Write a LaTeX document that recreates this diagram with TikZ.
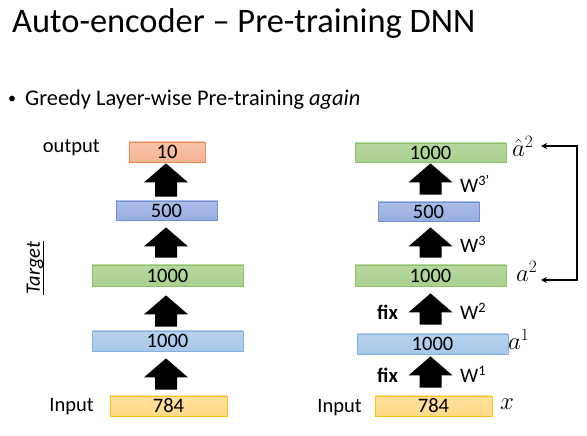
\documentclass[tikz,border=0pt]{standalone}
\usepackage{fontspec}
\setmainfont{Carlito}
\usetikzlibrary{arrows.meta,calc}

\definecolor{orgfill}{HTML}{F6B393}
\definecolor{orgline}{HTML}{EE8A50}
\definecolor{bluefill}{HTML}{97ADE0}
\definecolor{blueline}{HTML}{6E8FD6}
\definecolor{greenfill}{HTML}{A9D18E}
\definecolor{greenline}{HTML}{8CC16C}
\definecolor{ltbluefill}{HTML}{A6C7EA}
\definecolor{ltblueline}{HTML}{80B1E0}
\definecolor{yelfill}{HTML}{FFD985}
\definecolor{yelline}{HTML}{FFC20E}

% solid block arrow pointing up, from the node below (#2) to the node above (#3)
% #1: coordinate giving the column x, #4/#5: gaps at the bottom / top
\newcommand\blkarrow[5]{%
  \fill[black] let \p1=(#2.north), \p2=(#3.south), \p3=(#1) in
    (\x3-11pt,\y1+#4pt) -- (\x3+11pt,\y1+#4pt) -- (\x3+11pt,\y2-#5pt-19pt)
    -- (\x3+22pt,\y2-#5pt-19pt) -- (\x3,\y2-#5pt) -- (\x3-22pt,\y2-#5pt-19pt)
    -- (\x3-11pt,\y2-#5pt-19pt) -- cycle;}

\tikzset{
  layer/.style={inner sep=0pt, line width=0.8pt, font=\fontsize{20.5}{22}\selectfont},
  orangebox/.style={layer, draw=orgline, top color=orgfill!80!white, bottom color=orgfill},
  bluebox/.style={layer, draw=blueline, top color=bluefill!80!white, bottom color=bluefill},
  greenbox/.style={layer, draw=greenline, top color=greenfill!85!white, bottom color=greenfill},
  ltbluebox/.style={layer, draw=ltblueline, top color=ltbluefill!80!white, bottom color=ltbluefill},
  yelbox/.style={layer, draw=yelline, top color=yelfill!80!white, bottom color=yelfill},
  lbl/.style={inner sep=0pt, font=\fontsize{20.5}{22}\selectfont},
  fixlbl/.style={lbl, font=\fontsize{20.5}{22}\selectfont\bfseries},
  mathlbl/.style={inner sep=0pt, font=\fontsize{24}{26}\selectfont},
  feedback/.style={line width=1.5pt, {Stealth[length=6pt,width=6pt]}-{Stealth[length=6pt,width=6pt]}}
}

\begin{document}
\begin{tikzpicture}[x=1pt,y=1pt]
\useasboundingbox[fill=white] (0,0) rectangle (587,436);

% heading and bullet line
\node[inner sep=0pt, anchor=base west, font=\fontsize{34.4}{38}\selectfont] (title) at (12,403) {Auto-encoder -- Pre-training DNN};
\node[inner sep=0pt, anchor=base west, font=\fontsize{16}{18}\selectfont] (bullet) at (8,332) {•};
\node[inner sep=0pt, anchor=base west, font=\fontsize{22.4}{26}\selectfont] (subtitle) at (25,330) {Greedy Layer-wise Pre-training \textit{again}};

% left network
\coordinate (lcol) at (166,0);
\node[orangebox, minimum width=76pt, minimum height=20pt] (l10) at (167,284) {10};
\node[bluebox, minimum width=101pt, minimum height=19pt] (l500) at (166.5,225.5) {500};
\node[greenbox, minimum width=151pt, minimum height=21pt] (l1000g) at (167.5,160.5) {1000};
\node[ltbluebox, minimum width=151pt, minimum height=20pt] (l1000b) at (167.5,95) {1000};
\node[yelbox, minimum width=117pt, minimum height=20pt] (l784) at (168.5,30) {784};

\blkarrow{lcol}{l500}{l10}{4}{1}
\blkarrow{lcol}{l1000g}{l500}{7}{7}
\blkarrow{lcol}{l1000b}{l1000g}{4}{9}
\blkarrow{lcol}{l784}{l1000b}{6}{7}

\node[lbl, anchor=base east] (outlbl) at (100,283) {output};
\node[lbl, anchor=base east] (inlbl) at (94,24) {Input};
\node[inner sep=0pt, rotate=90, font=\fontsize{20.5}{22}\selectfont\itshape] (target) at (35,168) {Target};
\draw[line width=0.9pt] (target.south west) -- (target.south east);

% right network
\coordinate (rcol) at (430.5,0);
\node[greenbox, minimum width=151pt, minimum height=19pt] (r1000t) at (430.5,283.5) {1000};
\node[bluebox, minimum width=101pt, minimum height=19pt] (r500) at (428.5,224.5) {500};
\node[greenbox, minimum width=151pt, minimum height=21pt] (r1000g) at (430.5,160.5) {1000};
\node[ltbluebox, minimum width=151pt, minimum height=20pt] (r1000b) at (432.5,92) {1000};
\node[yelbox, minimum width=117pt, minimum height=20pt] (r784) at (433.5,30) {784};

\blkarrow{rcol}{r500}{r1000t}{7}{1}
\blkarrow{rcol}{r1000g}{r500}{7}{6}
\blkarrow{rcol}{r1000b}{r1000g}{9}{7}
\blkarrow{rcol}{r784}{r1000b}{8}{2}

\node[lbl, anchor=base west] (w3p) at (460,243) {W\textsuperscript{3’}};
\node[lbl, anchor=base west] (w3) at (460,183) {W\textsuperscript{3}};
\node[lbl, anchor=base west] (w2) at (460,116) {W\textsuperscript{2}};
\node[lbl, anchor=base west] (w1) at (460,53) {W\textsuperscript{1}};
\node[fixlbl, anchor=base west] (fix2) at (377,116) {fix};
\node[fixlbl, anchor=base west] (fix1) at (377,53) {fix};
\node[lbl, anchor=base east] (inlbl2) at (362,23) {Input};

\node[mathlbl, anchor=base west] (ahat) at (512,279) {$\hat{a}^2$};
\node[mathlbl, anchor=base west] (a2) at (516,154) {$a^2$};
\node[mathlbl, anchor=base west] (a1) at (508,86) {$a^1$};
\node[mathlbl, anchor=base west] (xin) at (500,26) {$x$};

% reconstruction target loop
\coordinate (fbtop) at (541,290);
\coordinate (fbbot) at (541,156);
\draw[feedback] (fbtop) -- (577,290) -- (577,156) -- (fbbot);
\end{tikzpicture}
\end{document}
